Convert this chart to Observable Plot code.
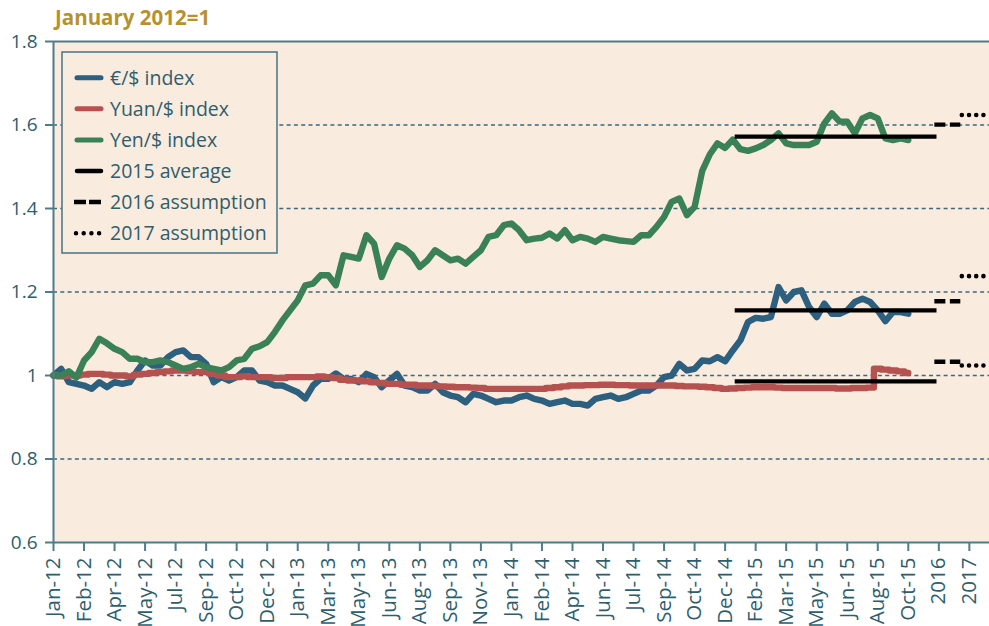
<!DOCTYPE html>
<html><head><meta charset="utf-8">
<script src="https://cdn.jsdelivr.net/npm/d3@7"></script>
<script src="https://cdn.jsdelivr.net/npm/@observablehq/plot@0.6"></script>
<style>
body{margin:0;background:#fff;}
#chart{width:989px;height:626px;}
</style></head><body><div id="chart"></div>
<script>
// ---- data ----
const xTickLabels = ["Jan-12","Feb-12","Apr-12","May-12","Jul-12","Sep-12","Oct-12","Dec-12",
  "Jan-13","Mar-13","May-13","Jun-13","Aug-13","Sep-13","Nov-13",
  "Jan-14","Feb-14","Apr-14","Jun-14","Jul-14","Sep-14","Oct-14","Dec-14",
  "Feb-15","Mar-15","May-15","Jun-15","Aug-15","Oct-15","2016","2017"];
const yTickValues = [0.6, 0.8, 1, 1.2, 1.4, 1.6, 1.8];
const yTickLabels = ["0.6", "0.8", "1", "1.2", "1.4", "1.6", "1.8"];
const gridValues = [0.8, 1, 1.2, 1.4, 1.6];
const STEP = 0.25; // samples every quarter of a tick interval

const euroUsd = [1.000,1.016,0.984,0.980, 0.976,0.968,0.984,0.972, 0.984,0.980,0.984,1.012, 1.036,1.024,1.024,1.044,
 1.056,1.060,1.044,1.044, 1.028,0.984,0.996,0.988, 0.996,1.012,1.012,0.988, 0.984,0.976,0.976,0.968,
 0.960,0.945,0.976,0.992, 0.992,1.005,0.992,0.992, 0.984,1.004,0.996,0.972, 0.988,1.004,0.976,0.972,
 0.964,0.964,0.980,0.960, 0.952,0.948,0.936,0.956, 0.952,0.944,0.936,0.940, 0.940,0.948,0.952,0.944,
 0.940,0.932,0.936,0.940, 0.932,0.932,0.928,0.944, 0.948,0.952,0.944,0.948, 0.956,0.964,0.964,0.976,
 0.996,1.000,1.028,1.012, 1.016,1.036,1.034,1.044, 1.034,1.060,1.084,1.128, 1.138,1.136,1.140,1.212,
 1.180,1.200,1.204,1.164, 1.140,1.172,1.148,1.148, 1.156,1.176,1.184,1.176, 1.156,1.130,1.152,1.152, 1.148];

const yuanUsd = [1.000,0.998,1.000,1.000, 1.002,1.004,1.004,1.002, 1.000,1.000,0.998,1.002, 1.004,1.006,1.008,1.010,
 1.012,1.012,1.010,1.008, 1.008,1.004,1.000,0.996, 0.996,0.998,0.996,0.996, 0.996,0.994,0.994,0.996,
 0.996,0.996,0.996,0.998, 0.996,0.994,0.990,0.988, 0.988,0.986,0.984,0.982, 0.980,0.980,0.978,0.978,
 0.976,0.976,0.975,0.974, 0.973,0.972,0.972,0.971, 0.970,0.968,0.968,0.968, 0.968,0.968,0.968,0.968,
 0.968,0.970,0.972,0.974, 0.976,0.976,0.977,0.977, 0.978,0.978,0.977,0.977, 0.976,0.976,0.976,0.976,
 0.976,0.976,0.975,0.974, 0.974,0.973,0.972,0.970, 0.968,0.969,0.970,0.971, 0.972,0.972,0.972,0.971,
 0.970,0.970,0.970,0.970, 0.970,0.970,0.970,0.969, 0.969,0.970,0.970,0.971, 1.016,1.014,1.012,1.010, 1.006];

const yenUsd = [1.000,1.000,1.010,0.995, 1.036,1.056,1.088,1.077, 1.064,1.056,1.040,1.040, 1.032,1.032,1.036,1.032,
 1.024,1.016,1.020,1.028, 1.020,1.016,1.012,1.020, 1.036,1.040,1.064,1.070, 1.080,1.104,1.132,1.156,
 1.180,1.216,1.220,1.240, 1.240,1.216,1.288,1.284, 1.280,1.336,1.316,1.236, 1.280,1.312,1.304,1.288,
 1.260,1.276,1.300,1.288, 1.276,1.280,1.268,1.284, 1.300,1.332,1.336,1.360, 1.364,1.348,1.324,1.328,
 1.330,1.340,1.328,1.348, 1.324,1.332,1.328,1.320, 1.332,1.328,1.324,1.322, 1.320,1.336,1.336,1.356,
 1.380,1.416,1.424,1.384, 1.404,1.490,1.530,1.556, 1.545,1.565,1.542,1.538, 1.544,1.552,1.564,1.580,
 1.556,1.552,1.552,1.552, 1.560,1.604,1.628,1.608, 1.608,1.580,1.616,1.624, 1.616,1.568,1.564,1.568, 1.564];

const seriesNames = ["€/$ index", "Yuan/$ index", "Yen/$ index"];
const seriesColors = ["#2D5F7E", "#B5524F", "#3A8157"];
// order: euro, yuan, yen
const avg2015 = [1.156, 0.986, 1.572];
const assume2016 = [1.178, 1.033, 1.601];
const assume2017 = [1.238, 1.024, 1.624];
// spans on the category axis (in tick units)
const span2015 = [22.33, 28.94];
const span2016 = [28.87, 29.72];
const span2017 = [29.77, 30.66];

const legendLabels = ["€/$ index", "Yuan/$ index", "Yen/$ index", "2015 average", "2016 assumption", "2017 assumption"];
const titleText = "January 2012=1";

// ---- styling ----
const TEXT = "#2E5E6C";
const AXIS = "#4F7C88";
const GRID = "#3A6A7C";
const BG = "#FAEBDF";
const FONT = "'Open Sans', sans-serif";
const LW = 6.4;

const toRows = (arr) => arr.map((v, i) => ({t: i * STEP, v}));
const euroRows = toRows(euroUsd), yuanRows = toRows(yuanUsd), yenRows = toRows(yenUsd);
const refRows = (vals, span) => vals.map(v => ({v, x1: span[0], x2: span[1]}));

const chart = Plot.plot({
  width: 989, height: 626,
  marginLeft: 53, marginRight: 0, marginTop: 41, marginBottom: 84,
  style: {fontFamily: FONT, fontSize: "19px", color: TEXT, background: "white", overflow: "visible"},
  x: {domain: [0, 30.66], ticks: d3.range(xTickLabels.length), tickFormat: i => xTickLabels[i],
      tickRotate: -90, tickSize: 9, tickPadding: 6, label: null},
  y: {domain: [0.6, 1.8], ticks: yTickValues, tickFormat: d => yTickLabels[yTickValues.indexOf(d)],
      tickSize: 8, tickPadding: 8, label: null},
  marks: [
    Plot.frame({fill: BG, stroke: null}),
    Plot.ruleY(gridValues, {stroke: GRID, strokeWidth: 1.5, strokeDasharray: "4,3.3"}),
    Plot.line(euroRows, {x: "t", y: "v", stroke: seriesColors[0], strokeWidth: LW, strokeLinejoin: "round", strokeLinecap: "round"}),
    Plot.line(yuanRows, {x: "t", y: "v", stroke: seriesColors[1], strokeWidth: LW, curve: "step", strokeLinejoin: "round", strokeLinecap: "round"}),
    Plot.line(yenRows, {x: "t", y: "v", stroke: seriesColors[2], strokeWidth: LW, strokeLinejoin: "round", strokeLinecap: "round"}),
    Plot.ruleY(refRows(avg2015, span2015), {y: "v", x1: "x1", x2: "x2", stroke: "black", strokeWidth: 4.2}),
    Plot.ruleY(refRows(assume2016, span2016), {y: "v", x1: "x1", x2: "x2", stroke: "black", strokeWidth: 4.4, strokeDasharray: "11,4.5"}),
    Plot.ruleY(refRows(assume2017, span2017), {y: "v", x1: "x1", x2: "x2", stroke: "black", strokeWidth: 4.6, strokeDasharray: "0,7.2", strokeLinecap: "round"}),
    Plot.ruleY([1.8], {stroke: AXIS, strokeWidth: 2}),
    Plot.ruleY([0.6], {stroke: AXIS, strokeWidth: 2}),
    Plot.ruleX([0], {stroke: AXIS, strokeWidth: 2})
  ]
});
document.getElementById("chart").appendChild(chart);

const svg = d3.select(chart);
// axis tick colour and label size
svg.selectAll("g[aria-label='x-axis tick'], g[aria-label='y-axis tick']").attr("stroke", AXIS).attr("stroke-width", 2);
svg.selectAll("g[aria-label='x-axis tick label']").attr("font-size", 20.5);

// title
svg.append("text").attr("x", 55).attr("y", 25).attr("text-anchor", "start")
  .attr("font-family", FONT).attr("font-size", 20.5).attr("font-weight", 700)
  .attr("fill", "#B8912F").text(titleText);

// legend
const lg = svg.append("g").attr("transform", "translate(62,52)");
lg.append("rect").attr("width", 215).attr("height", 201).attr("fill", BG)
  .attr("stroke", AXIS).attr("stroke-width", 1.6);
const swStyles = [
  {c: seriesColors[0], w: 5, d: null, cap: "round", x1: 15, x2: 39},
  {c: seriesColors[1], w: 5, d: null, cap: "round", x1: 15, x2: 39},
  {c: seriesColors[2], w: 5, d: null, cap: "round", x1: 15, x2: 39},
  {c: "black", w: 4.5, d: null, cap: "round", x1: 15, x2: 39},
  {c: "black", w: 4.5, d: "12,3", cap: "butt", x1: 12, x2: 39},
  {c: "black", w: 4.5, d: "0,7.7", cap: "round", x1: 14, x2: 38}
];
legendLabels.forEach((lab, i) => {
  const y = 25.7 + i * 31.1;
  const s = swStyles[i];
  const ln = lg.append("line").attr("x1", s.x1).attr("x2", s.x2).attr("y1", y).attr("y2", y)
    .attr("stroke", s.c).attr("stroke-width", s.w).attr("stroke-linecap", s.cap);
  if (s.d) ln.attr("stroke-dasharray", s.d);
  lg.append("text").attr("x", 48).attr("y", y).attr("dy", "0.35em").attr("text-anchor", "start")
    .attr("font-family", FONT).attr("font-size", 19.5).attr("fill", TEXT).text(lab);
});
</script></body></html>
